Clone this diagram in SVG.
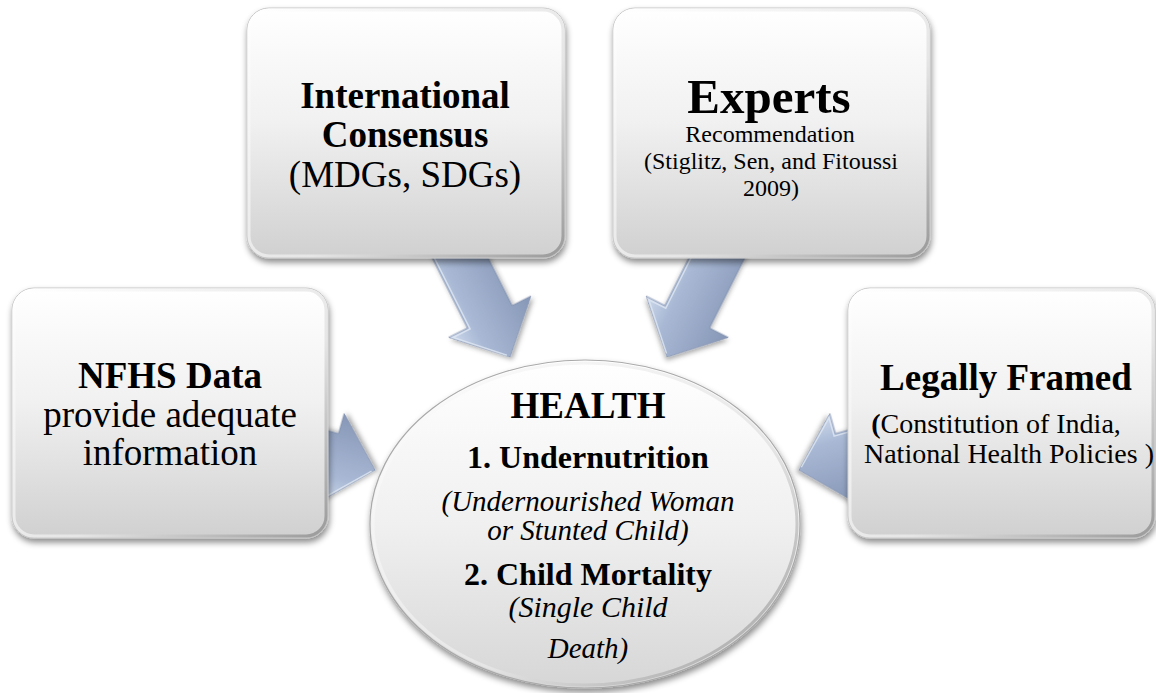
<svg xmlns="http://www.w3.org/2000/svg" width="1156" height="693" viewBox="0 0 1156 693">
  <defs>
    <style>
      text { fill: #000; text-anchor: middle; }
      .b { font-weight: bold; }
      .i { font-style: italic; }
      .box { fill: url(#boxGrad); stroke: #c4c4c4; stroke-width: 1; filter: url(#shadow); }
      .bevel { fill: none; stroke: url(#bevelGrad); stroke-width: 3; }
      .arrow { fill: url(#arrowGrad); stroke: #8290ad; stroke-width: 0.8; filter: url(#arrowShadow); }
      .arrowHi { fill: none; stroke: #dfe7f3; stroke-width: 1.5; opacity: 0.8; }
    </style>
    <linearGradient id="boxGrad" x1="0" y1="0" x2="0" y2="1">
      <stop offset="0" stop-color="#ffffff"/>
      <stop offset="0.45" stop-color="#f1f1f1"/>
      <stop offset="1" stop-color="#d0d0d0"/>
    </linearGradient>
    <linearGradient id="bevelGrad" x1="0" y1="0" x2="1" y2="1">
      <stop offset="0" stop-color="#ffffff"/>
      <stop offset="0.6" stop-color="#e6e6e6"/>
      <stop offset="1" stop-color="#9a9a9a"/>
    </linearGradient>
    <linearGradient id="ellGrad" x1="0" y1="0" x2="0" y2="1">
      <stop offset="0" stop-color="#ffffff"/>
      <stop offset="0.5" stop-color="#f0f0f0"/>
      <stop offset="1" stop-color="#d6d6d6"/>
    </linearGradient>
    <linearGradient id="arrowGrad" x1="0" y1="0" x2="1" y2="0">
      <stop offset="0" stop-color="#cfdaec"/>
      <stop offset="0.3" stop-color="#a9b9d5"/>
      <stop offset="1" stop-color="#8696b6"/>
    </linearGradient>
    <filter id="shadow" x="-10%" y="-10%" width="125%" height="125%">
      <feDropShadow dx="1" dy="4" stdDeviation="3" flood-color="#000" flood-opacity="0.45"/>
    </filter>
    <filter id="arrowShadow" x="-20%" y="-20%" width="140%" height="140%">
      <feDropShadow dx="1" dy="3" stdDeviation="2.5" flood-color="#000" flood-opacity="0.35"/>
    </filter>
    <!-- block arrow pointing down (+y), tip at origin -->
    <polygon id="blockArrow" points="-25,-150 25,-150 25,-45 46,-45 0,0 -46,-45 -25,-45"/>
  </defs>

  <g id="connectors">
    <g transform="translate(510,357) rotate(-26.7)">
      <use href="#blockArrow" class="arrow"/>
      <polyline class="arrowHi" points="-23,-150 -23,-43 -42,-43 -2,-3"/>
    </g>
    <g transform="translate(667,357) rotate(26.7)">
      <use href="#blockArrow" class="arrow"/>
      <polyline class="arrowHi" points="-23,-150 -23,-43 -42,-43 -2,-3"/>
    </g>
    <g transform="translate(375,470) rotate(-74.2)">
      <use href="#blockArrow" class="arrow"/>
      <polyline class="arrowHi" points="-23,-150 -23,-43 -42,-43 -2,-3"/>
    </g>
    <g transform="translate(799,470) rotate(74.2)">
      <use href="#blockArrow" class="arrow"/>
      <polyline class="arrowHi" points="-23,-150 -23,-43 -42,-43 -2,-3"/>
    </g>
  </g>

  <g font-family="Liberation Serif, Tinos, Times New Roman, DejaVu Serif, serif">
  <g id="health">
    <ellipse cx="585" cy="524" rx="215" ry="164" fill="url(#ellGrad)" stroke="#a9a9a9" stroke-width="1.2" filter="url(#shadow)"/>
    <ellipse cx="585" cy="524" rx="212" ry="161" fill="none" stroke="url(#bevelGrad)" stroke-width="3"/>
    <text class="b" x="588" y="418" font-size="37">HEALTH</text>
    <text class="b" x="588" y="468" font-size="32">1. Undernutrition</text>
    <text class="i" x="588" y="511" font-size="29">(Undernourished Woman</text>
    <text class="i" x="588" y="540" font-size="29">or Stunted Child)</text>
    <text class="b" x="588" y="585" font-size="32">2. Child Mortality</text>
    <text class="i" x="588" y="617" font-size="30">(Single Child</text>
    <text class="i" x="588" y="658" font-size="29">Death)</text>
  </g>

  <g id="international">
    <rect class="box" x="247" y="8" width="318" height="250" rx="22"/>
    <rect class="bevel" x="249" y="10" width="314" height="246" rx="20"/>
    <text class="b" x="405" y="108" font-size="37">International</text>
    <text class="b" x="405" y="147" font-size="37">Consensus</text>
    <text x="405" y="187" font-size="37">(MDGs, SDGs)</text>
  </g>

  <g id="experts">
    <rect class="box" x="613" y="8" width="317" height="250" rx="22"/>
    <rect class="bevel" x="615" y="10" width="313" height="246" rx="20"/>
    <text class="b" x="769" y="113" font-size="49">Experts</text>
    <text x="770" y="142" font-size="24">Recommendation</text>
    <text x="771" y="169" font-size="24">(Stiglitz, Sen, and Fitoussi</text>
    <text x="771" y="196" font-size="24">2009)</text>
  </g>

  <g id="nfhs">
    <rect class="box" x="12" y="288" width="316" height="250" rx="22"/>
    <rect class="bevel" x="14" y="290" width="312" height="246" rx="20"/>
    <text class="b" x="170" y="388" font-size="37">NFHS Data</text>
    <text x="170" y="427" font-size="37">provide adequate</text>
    <text x="170" y="465" font-size="37">information</text>
  </g>

  <g id="legal">
    <rect class="box" x="848" y="288" width="307" height="250" rx="22"/>
    <rect class="bevel" x="850" y="290" width="303" height="246" rx="20"/>
    <text class="b" x="1006" y="390" font-size="37">Legally Framed</text>
    <text x="996" y="433" font-size="28"><tspan class="b">(</tspan>Constitution of India,</text>
    <text x="1009" y="463" font-size="28">National Health Policies )</text>
  </g>
  </g>
</svg>
